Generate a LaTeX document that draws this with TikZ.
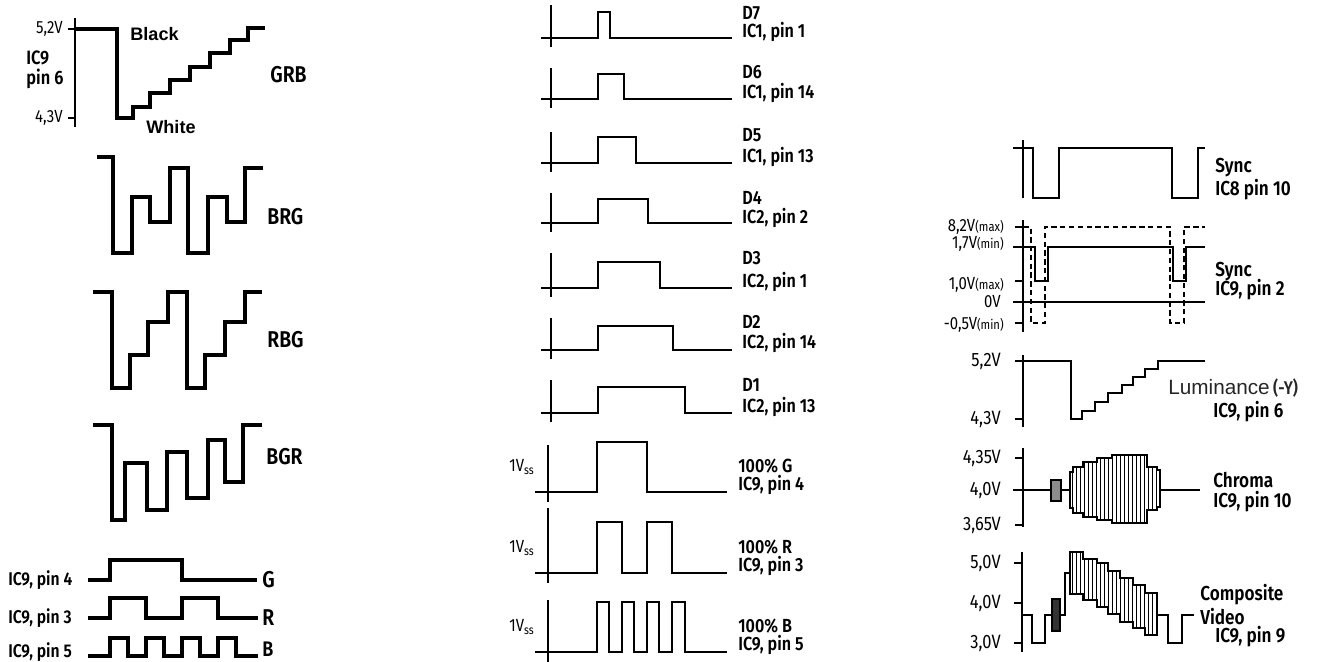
\documentclass[tikz,border=0pt]{standalone}
\usepackage{fontspec}
\setmainfont{Liberation Sans}
\newfontfamily\din[FakeStretch=0.85,UprightFont={* SemiBold}]{Fira Sans}
\newfontfamily\dinl[FakeStretch=0.85]{Fira Sans}
\begin{document}
\begin{tikzpicture}[x=0.02cm,y=-0.02cm,
  wave/.style={line width=1.8pt},
  mwave/.style={line width=1.3pt},
  rwave/.style={line width=1.1pt},
  dwave/.style={line width=0.9pt,dash pattern=on 3pt off 2pt},
  axis/.style={line width=0.6pt},
  hatch/.style={line width=0.5pt},
  big/.style={inner sep=0pt,anchor=west,font=\din\fontsize{13}{15}\selectfont},
  lab/.style={inner sep=0pt,anchor=west,font=\din\fontsize{10.5}{12}\selectfont},
  mlab/.style={inner sep=0pt,anchor=west,font=\din\fontsize{10.8}{12}\selectfont},
  rlab/.style={inner sep=0pt,anchor=west,font=\din\fontsize{11.5}{13}\selectfont},
  volt/.style={inner sep=0pt,anchor=east,font=\dinl\fontsize{10}{12}\selectfont},
  rvolt/.style={inner sep=0pt,anchor=east,font=\dinl\fontsize{11}{13}\selectfont},
  arb/.style={inner sep=0pt,anchor=west,font=\bfseries\fontsize{10.3}{12}\selectfont},
  vss/.style={inner sep=0pt,font=\dinl\fontsize{10}{12}\selectfont},
]
\useasboundingbox (0,0) rectangle (1326,662);

% ================= LEFT COLUMN =================
\draw[axis] (75,18) -- (75,127);
\draw[axis] (68,29) -- (75,29);
\draw[axis] (68,118) -- (75,118);
\node[volt] (v52a) at (63,29) {5,2V};
\node[volt] (v43a) at (63,118) {4,3V};
\node[lab,font=\din\fontsize{11}{13}\selectfont] (ic9a) at (26,58) {IC9};
\node[lab,font=\din\fontsize{11}{13}\selectfont] (pin6a) at (26,79) {pin 6};
\draw[wave] (76,29) -- (117,29) -- (117,118) -- (133,118) -- (133,107) -- (150,107) -- (150,93) -- (170,93) -- (170,80) -- (190,80) -- (190,67) -- (210,67) -- (210,53) -- (230,53) -- (230,40) -- (248,40) -- (248,28) -- (265,28);
\node[arb] (black) at (130,34) {Black};
\node[arb] (white) at (146,127) {White};
\node[big] (grb) at (270,75) {GRB};

% BRG
\draw[wave] (97,157) -- (113,157) -- (113,253) -- (132,253) -- (132,197) -- (150,197) -- (150,222) -- (170,222) -- (170,168) -- (188,168) -- (188,253) -- (208,253) -- (208,197) -- (227,197) -- (227,222) -- (245,222) -- (245,168) -- (263,168);
\node[big] (brg) at (267,217) {BRG};

% RBG
\draw[wave] (93,292) -- (112,292) -- (112,388) -- (130,388) -- (130,355) -- (148,355) -- (148,322) -- (168,322) -- (168,292) -- (187,292) -- (187,388) -- (205,388) -- (205,355) -- (225,355) -- (225,322) -- (245,322) -- (245,292) -- (262,292);
\node[big] (rbg) at (267,340) {RBG};

% BGR
\draw[wave] (93,425) -- (112,425) -- (112,520) -- (125,520) -- (125,463) -- (147,463) -- (147,510) -- (167,510) -- (167,452) -- (187,452) -- (187,498) -- (208,498) -- (208,440) -- (225,440) -- (225,482) -- (243,482) -- (243,425) -- (262,425);
\node[big] (bgr) at (266,457) {BGR};

% G R B logic
\draw[wave] (88,580) -- (110,580) -- (110,560) -- (182,560) -- (182,580) -- (257,580);
\draw[wave] (88,618) -- (110,618) -- (110,598) -- (146,598) -- (146,618) -- (182,618) -- (182,598) -- (218,598) -- (218,618) -- (258,618);
\draw[wave] (88,656) -- (110,656) -- (110,638) -- (128,638) -- (128,656) -- (146,656) -- (146,638) -- (164,638) -- (164,656) -- (182,656) -- (182,638) -- (200,638) -- (200,656) -- (218,656) -- (218,638) -- (236,638) -- (236,656) -- (258,656);
\node[lab] (p4) at (8,580) {IC9, pin 4};
\node[lab] (p3) at (8,618) {IC9, pin 3};
\node[lab] (p5) at (8,652) {IC9, pin 5};
\node[big] (gl) at (262,580) {G};
\node[big] (rl) at (262,618) {R};
\node[big,font=\din\fontsize{12}{14}\selectfont] (bl) at (262,649) {B};

% ================= MIDDLE COLUMN =================
\foreach \b/\h/\e/\t [count=\i] in {38/12/610/5, 99/74/624/68, 163/137/636/132, 223/199/648/193, 288/262/660/253, 350/326/673/318, 413/387/685/380}{
  \draw[axis] (551,\t) -- (551,\b+9);
  \draw[mwave] (541,\b) -- (598,\b) -- (598,\h) -- (\e,\h) -- (\e,\b) -- (732,\b);
}
\node[mlab] (d7) at (742,13) {D7};
\node[mlab] (d7b) at (742,32) {IC1, pin 1};
\node[mlab] (d6) at (742,72) {D6};
\node[mlab] (d6b) at (742,93) {IC1, pin 14};
\node[mlab] (d5) at (742,135) {D5};
\node[mlab] (d5b) at (742,157) {IC1, pin 13};
\node[mlab] (d4) at (742,198) {D4};
\node[mlab] (d4b) at (742,218) {IC2, pin 2};
\node[mlab] (d3) at (742,258) {D3};
\node[mlab] (d3b) at (742,282) {IC2, pin 1};
\node[mlab] (d2) at (742,322) {D2};
\node[mlab] (d2b) at (742,343) {IC2, pin 14};
\node[mlab] (d1) at (742,385) {D1};
\node[mlab] (d1b) at (742,407) {IC2, pin 13};

\draw[axis] (548,445) -- (548,502);
\draw[mwave] (535,492) -- (597,492) -- (597,442) -- (647,442) -- (647,492) -- (727,492);
\draw[axis] (548,508) -- (548,583);
\draw[mwave] (535,573) -- (597,573) -- (597,522) -- (622,522) -- (622,573) -- (647,573) -- (647,522) -- (672,522) -- (672,573) -- (727,573);
\draw[axis] (548,600) -- (548,662);
\draw[mwave] (535,652) -- (597,652) -- (597,602) -- (609,602) -- (609,652) -- (622,652) -- (622,602) -- (634,602) -- (634,652) -- (647,652) -- (647,602) -- (659,602) -- (659,652) -- (672,652) -- (672,602) -- (685,602) -- (685,652) -- (727,652);
\node[vss] (vssg) at (522,467) {1V\textsubscript{ss}};
\node[vss] (vssr) at (522,548) {1V\textsubscript{ss}};
\node[vss] (vssb) at (522,627) {1V\textsubscript{ss}};
\node[mlab] (g1) at (738,466) {100\% G};
\node[mlab] (g2) at (738,485) {IC9, pin 4};
\node[mlab] (r1) at (738,547) {100\% R};
\node[mlab] (r2) at (738,566) {IC9, pin 3};
\node[mlab] (b1) at (738,626) {100\% B};
\node[mlab] (b2) at (738,645) {IC9, pin 5};

% ================= RIGHT COLUMN =================
% Sync IC8
\draw[axis] (1023,140) -- (1023,198);
\draw[rwave] (1013,148) -- (1033,148) -- (1033,198) -- (1059,198) -- (1059,148) -- (1172,148) -- (1172,198) -- (1198,198) -- (1198,148) -- (1205,148);
\node[rlab] (s1) at (1215,168) {Sync};
\node[rlab] (s1b) at (1215,190) {IC8 pin 10};

% Sync IC9 pin 2
\draw[axis] (1023,220) -- (1023,332);
\foreach \yy in {227,281,323} \draw[axis] (1015,\yy) -- (1023,\yy);
\draw[dwave] (1015,227) -- (1031,227) -- (1031,323) -- (1045,323) -- (1045,227) -- (1170,227) -- (1170,323) -- (1184,323) -- (1184,227) -- (1205,227);
\draw[rwave] (1013,247) -- (1035,247) -- (1035,281) -- (1048,281) -- (1048,247) -- (1173,247) -- (1173,281) -- (1186,281) -- (1186,247) -- (1205,247);
\draw[rwave] (1013,302) -- (1205,302);
\node[volt] (v82) at (1004,227) {8,2V{\fontsize{7.5}{9}\selectfont(max)}};
\node[volt] (v17) at (1004,244) {1,7V{\fontsize{7.5}{9}\selectfont(min)}};
\node[volt] (v10) at (1004,285) {1,0V{\fontsize{7.5}{9}\selectfont(max)}};
\node[volt] (v0) at (1001,302) {0V};
\node[volt] (vm05) at (1004,325) {-0,5V{\fontsize{7.5}{9}\selectfont(min)}};
\node[rlab] (s2) at (1215,272) {Sync};
\node[rlab] (s2b) at (1215,290) {IC9, pin 2};

% Luminance
\draw[axis] (1023,355) -- (1023,427);
\draw[axis] (1015,419) -- (1023,419);
\draw[rwave] (1015,361) -- (1071,361) -- (1071,419) -- (1082,419) -- (1082,411) -- (1095,411) -- (1095,402) -- (1108,402) -- (1108,393) -- (1122,393) -- (1122,385) -- (1133,385) -- (1133,377) -- (1145,377) -- (1145,369) -- (1158,369) -- (1158,361) -- (1205,361);
\node[rvolt] (v52b) at (1001,361) {5,2V};
\node[rvolt] (v43b) at (1001,419) {4,3V};
\node[inner sep=0pt,anchor=west,font=\fontsize{11.8}{13}\selectfont,text=black!85] (lum) at (1168,388) {Luminance\,{\din\fontsize{10.5}{12}\selectfont(-Y)}};
\node[rlab] (lumb) at (1213,412) {IC9, pin 6};

% Chroma
\draw[axis] (1023,448) -- (1023,527);
\draw[axis] (1015,458) -- (1023,458);
\draw[axis] (1015,525) -- (1023,525);
\draw[rwave] (1013,490) -- (1051,490);
\draw[rwave] (1061,490) -- (1070,490);
\draw[rwave] (1160,490) -- (1200,490);
\draw[rwave,fill=black!45] (1051,480) rectangle (1061,501);
\begin{scope}
\clip (1070,472) -- (1073,472) -- (1073,467) -- (1083,467) -- (1083,462) -- (1097,462) -- (1097,458) -- (1112,458) -- (1112,455) -- (1147,455) -- (1147,467) -- (1157,467) -- (1157,470) -- (1160,470) -- (1160,507) -- (1157,507) -- (1157,510) -- (1147,510) -- (1147,523) -- (1112,523) -- (1112,520) -- (1097,520) -- (1097,517) -- (1083,517) -- (1083,513) -- (1073,513) -- (1073,508) -- (1070,508) -- cycle;
\foreach \x in {1072,1076,...,1160} \draw[hatch] (\x,450) -- (\x,530);
\end{scope}
\draw[rwave] (1070,472) -- (1073,472) -- (1073,467) -- (1083,467) -- (1083,462) -- (1097,462) -- (1097,458) -- (1112,458) -- (1112,455) -- (1147,455) -- (1147,467) -- (1157,467) -- (1157,470) -- (1160,470) -- (1160,507) -- (1157,507) -- (1157,510) -- (1147,510) -- (1147,523) -- (1112,523) -- (1112,520) -- (1097,520) -- (1097,517) -- (1083,517) -- (1083,513) -- (1073,513) -- (1073,508) -- (1070,508) -- cycle;
\node[rvolt] (v435) at (1001,458) {4,35V};
\node[rvolt] (v40a) at (1001,490) {4,0V};
\node[rvolt] (v365) at (1001,525) {3,65V};
\node[rlab] (chr) at (1213,480) {Chroma};
\node[rlab] (chrb) at (1213,502) {IC9, pin 10};

% Composite video
\draw[axis] (1022,552) -- (1022,652);
\foreach \yy in {563,603,643} \draw[axis] (1014,\yy) -- (1022,\yy);
\draw[rwave] (1021,615) -- (1032,615) -- (1032,643) -- (1045,643) -- (1045,615) -- (1052,615);
\draw[rwave] (1060,615) -- (1065,615) -- (1065,573) -- (1070,573);
\draw[rwave,fill=black!80] (1052,599) rectangle (1060,631);
\begin{scope}
\clip (1070,552) -- (1083,552) -- (1083,559) -- (1097,559) -- (1097,563) -- (1108,563) -- (1108,571) -- (1120,571) -- (1120,578) -- (1133,578) -- (1133,585) -- (1145,585) -- (1145,593) -- (1157,593) -- (1157,635) -- (1145,635) -- (1145,628) -- (1133,628) -- (1133,622) -- (1120,622) -- (1120,614) -- (1108,614) -- (1108,607) -- (1097,607) -- (1097,600) -- (1083,600) -- (1083,594) -- (1070,594) -- cycle;
\foreach \x in {1072,1076,...,1157} \draw[hatch] (\x,545) -- (\x,640);
\end{scope}
\draw[rwave] (1070,552) -- (1083,552) -- (1083,559) -- (1097,559) -- (1097,563) -- (1108,563) -- (1108,571) -- (1120,571) -- (1120,578) -- (1133,578) -- (1133,585) -- (1145,585) -- (1145,593) -- (1157,593) -- (1157,635) -- (1145,635) -- (1145,628) -- (1133,628) -- (1133,622) -- (1120,622) -- (1120,614) -- (1108,614) -- (1108,607) -- (1097,607) -- (1097,600) -- (1083,600) -- (1083,594) -- (1070,594) -- cycle;
\draw[rwave] (1157,615) -- (1168,615) -- (1168,643) -- (1182,643) -- (1182,615) -- (1194,615);
\node[rvolt] (v50) at (1001,563) {5,0V};
\node[rvolt] (v40b) at (1001,603) {4,0V};
\node[rvolt] (v30) at (1001,643) {3,0V};
\node[rlab] (cv1) at (1200,595) {Composite};
\node[rlab] (cv2) at (1200,617) {Video};
\node[rlab] (cv3) at (1215,637) {IC9, pin 9};
\end{tikzpicture}
\end{document}
